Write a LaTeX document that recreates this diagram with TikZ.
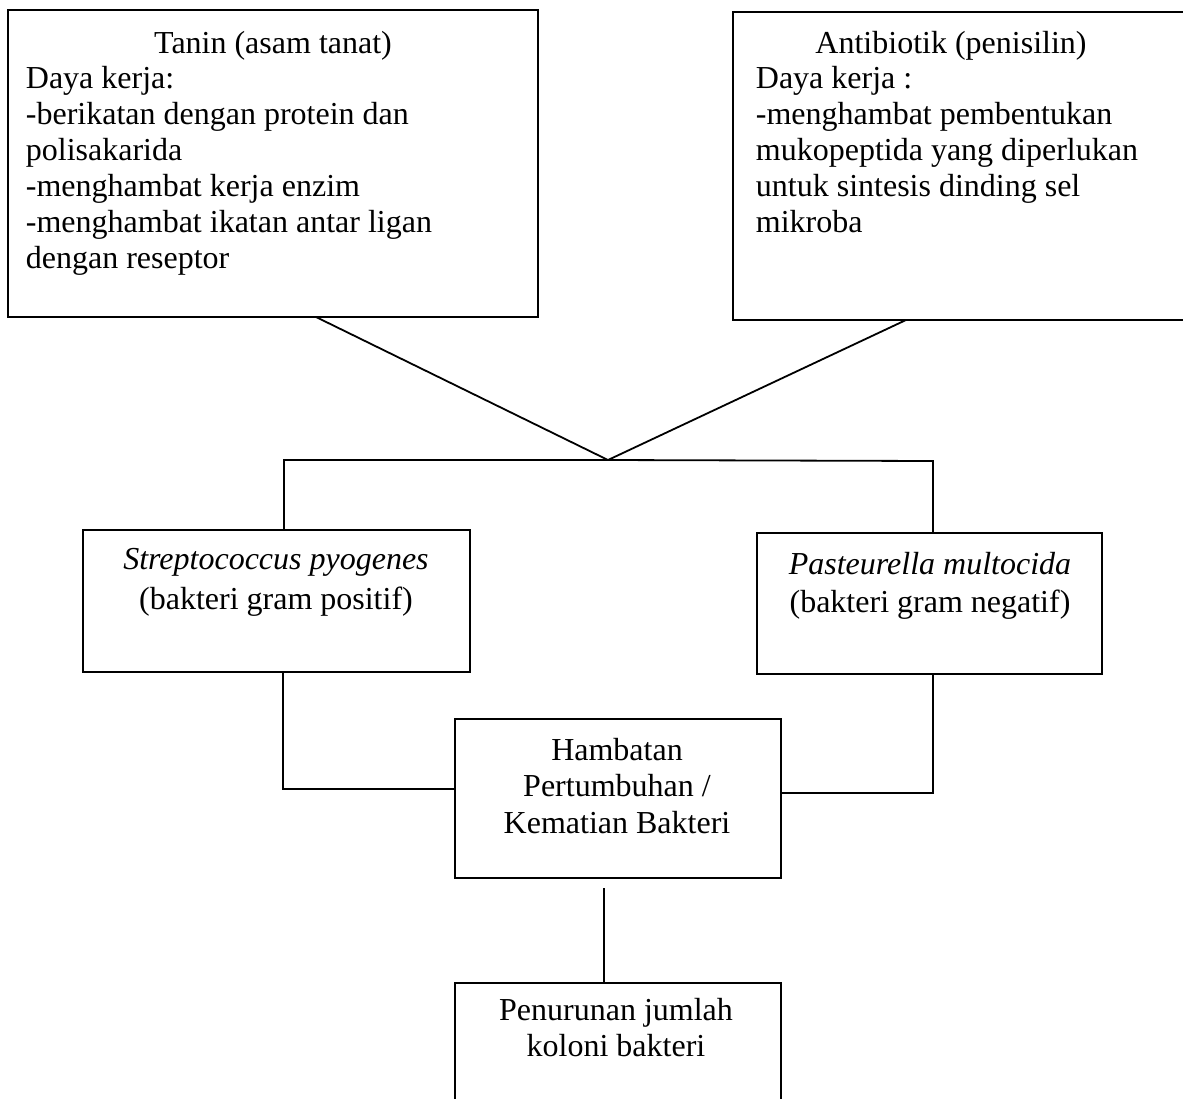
\documentclass[tikz,border=0pt]{standalone}
\usepackage{fontspec}
\setmainfont{Liberation Serif}
\begin{document}
\begin{tikzpicture}[x=1pt,y=-1pt,line width=1.8pt,
    box/.style={draw,rectangle,anchor=north west,inner sep=0pt,outer sep=0pt},
    txt/.style={inner sep=0pt,font=\fontsize{32}{36}\selectfont},
    mid/.style={txt,align=center}]
    \useasboundingbox[fill=white] (0,0) rectangle (1183,1098);

    % kotak atas
    \node[box,minimum width=530pt,minimum height=307pt] (tanin) at (8,10) {};
    \node[txt,anchor=base] (tanintitle) at (273,53) {Tanin (asam tanat)};
    \node[txt,align=left,anchor=base west] (tanintext) at (25,268) {Daya kerja:\\
        -berikatan dengan protein dan\\ polisakarida\\ -menghambat kerja enzim\\
        -menghambat ikatan antar ligan\\ dengan reseptor};

    \node[box,minimum width=460pt,minimum height=308pt] (anti) at (733,12) {};
    \node[txt,anchor=base] (antititle) at (951,53) {Antibiotik (penisilin)};
    \node[txt,align=left,anchor=base west] (antitext) at (755,232) {Daya kerja :\\
        -menghambat pembentukan\\ mukopeptida yang diperlukan\\
        untuk sintesis dinding sel\\ mikroba};

    % bakteri
    \node[box,minimum width=387pt,minimum height=142pt] (strep) at (83,530) {};
    \node[mid,anchor=base,font=\fontsize{32}{40}\selectfont] (streptext) at (276,609)
        {\textit{Streptococcus pyogenes}\\ (bakteri gram positif)};
    \node[box,minimum width=345pt,minimum height=141pt] (past) at (757,533) {};
    \node[mid,anchor=base,font=\fontsize{32}{38}\selectfont] (pasttext) at (930,612)
        {\textit{Pasteurella multocida}\\ (bakteri gram negatif)};

    % hasil
    \node[box,minimum width=326pt,minimum height=159pt] (hambat) at (455,719) {};
    \node[mid,anchor=base,font=\fontsize{32}{36.5}\selectfont] (hambattext) at (617,833)
        {Hambatan\\ Pertumbuhan /\\ Kematian Bakteri};
    \node[box,minimum width=326pt,minimum height=150pt] (turun) at (455,983) {};
    \node[mid,anchor=base] (turuntext) at (616,1056) {Penurunan jumlah\\ koloni bakteri};

    \coordinate (join) at (608,460);
    \coordinate (hl) at (284,460);
    \coordinate (hr) at (933,461);

    \draw ([xshift=43pt]tanin.south) -- (join);
    \draw ([xshift=-57pt]anti.south) -- (join);
    \draw (strep.north -| hl) -- (hl) -- (join) -- (hr) -- (past.north -| hr);
    \draw ([xshift=6.5pt]strep.south) |- ([yshift=9.5pt]hambat.west);
    \draw ([xshift=3.5pt]past.south) |- ([yshift=5.5pt]hambat.east);
    \draw[shorten <=10pt] ([xshift=-14pt]hambat.south) -- ([xshift=-14pt]turun.north);
\end{tikzpicture}
\end{document}
